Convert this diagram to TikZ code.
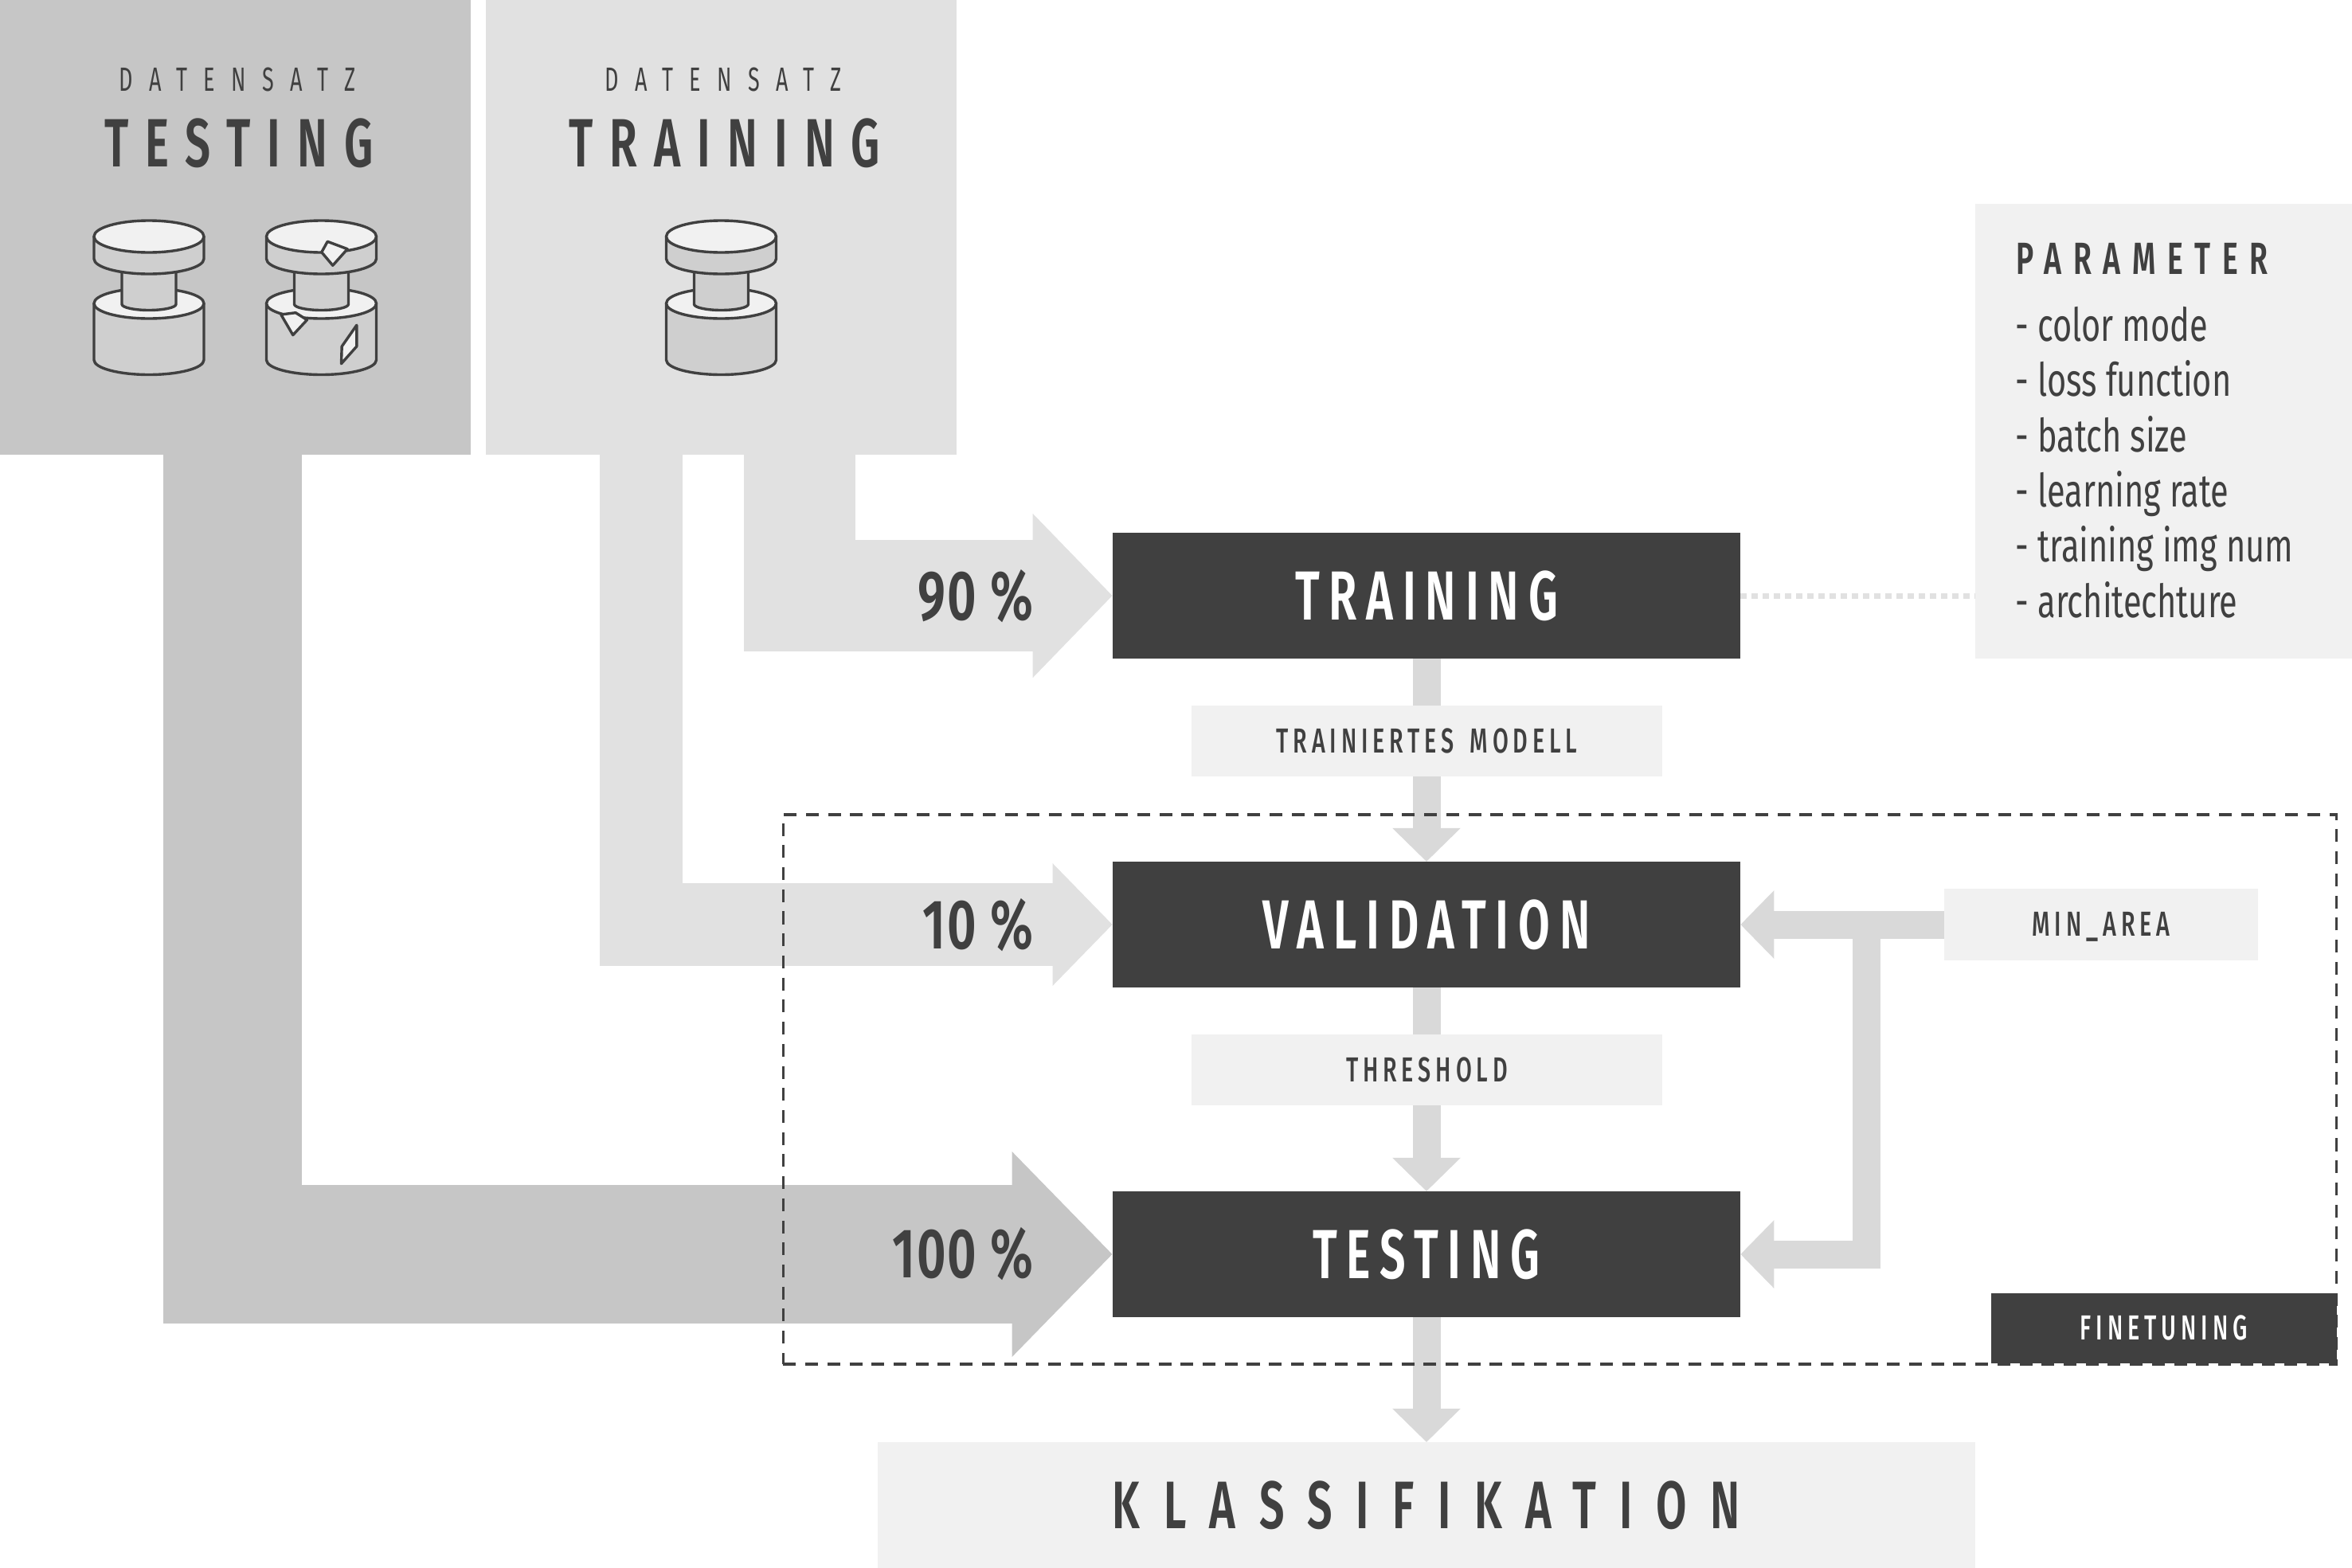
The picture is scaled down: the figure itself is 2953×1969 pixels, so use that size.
\documentclass[tikz,border=0pt]{standalone}
\usepackage{fontspec}
\usepackage{tikz}
\usetikzlibrary{arrows.meta}

\setmainfont{Fira Sans}
\newfontfamily\boxfont[FakeStretch=0.66,LetterSpace=13.5]{Fira Sans SemiBold}
\newfontfamily\panelfont[FakeStretch=0.66,LetterSpace=24.5]{Fira Sans SemiBold}
\newfontfamily\widefont[FakeStretch=0.66,LetterSpace=35]{Fira Sans SemiBold}
\newfontfamily\setfont[FakeStretch=0.64,LetterSpace=48]{Fira Sans}
\newfontfamily\smallfont[FakeStretch=0.66,LetterSpace=13.5]{Fira Sans Medium}
\newfontfamily\paramfont[FakeStretch=0.66,LetterSpace=26]{Fira Sans SemiBold}
\newfontfamily\listfont[FakeStretch=0.72]{Fira Sans}
\newfontfamily\percentfont[FakeStretch=0.72,LetterSpace=2]{Fira Sans SemiBold}

\definecolor{inkgray}{HTML}{404040}
\definecolor{testgray}{HTML}{C6C6C6}
\definecolor{traingray}{HTML}{E1E1E1}
\definecolor{flowgray}{HTML}{D9D9D9}
\definecolor{labelgray}{HTML}{F1F1F1}
\definecolor{sidegray}{HTML}{CFCFCF}

\pgfdeclarelayer{flowlayer}
\pgfsetlayers{flowlayer,main}

\tikzset{
	area/.style={inner sep=0pt, outer sep=0pt, minimum width=#1},
	panelbox/.style={area=5.91cm, minimum height=5.71cm},
	darkbox/.style={area=7.88cm, minimum height=1.58cm, fill=inkgray, text=white,
		font={\boxfont\fontsize{24.8}{30}\selectfont}, text height=17.1pt, text depth=0pt},
	labelbox/.style={area=5.91cm, minimum height=0.89cm, fill=labelgray, text=inkgray,
		font={\smallfont\fontsize{12.4}{15}\selectfont}, text height=8.5pt, text depth=0pt},
	settext/.style={anchor=base, inner sep=0pt, text=inkgray, font={\setfont\fontsize{12}{15}\selectfont}},
	paneltext/.style={anchor=base, inner sep=0pt, text=inkgray, font={\panelfont\fontsize{24.4}{30}\selectfont}},
	percenttext/.style={anchor=base east, inner sep=0pt, text=inkgray, font={\percentfont\fontsize{25}{30}\selectfont}},
	listtext/.style={anchor=base west, inner sep=0pt, text=inkgray, font={\listfont\fontsize{16.4}{20}\selectfont}},
	flowarrow/.style n args={4}{draw=#1, line width=#2, line join=miter,
		-{Triangle[length=#3, width=#4]}},
	thinflow/.style={flowarrow={flowgray}{0.35cm}{0.42cm}{0.83cm}},
	puckline/.style={draw=inkgray, line width=0.034cm, line join=round},
	puck/.pic={
		\draw[puckline, fill=sidegray] (-69,84) -- (-69,155) arc[start angle=180, end angle=0, x radius=69, y radius=18.5] -- (69,84) -- cycle;
		\draw[puckline, fill=labelgray] (0,84) ellipse[x radius=69, y radius=19];
		\draw[puckline, fill=sidegray] (-34,20) -- (-34,85) arc[start angle=180, end angle=0, x radius=34, y radius=7.5] -- (34,20) -- cycle;
		\draw[puckline, fill=sidegray] (-69,0) -- (-69,28) arc[start angle=180, end angle=0, x radius=69, y radius=19] -- (69,0) -- cycle;
		\draw[puckline, fill=labelgray] (0,0) ellipse[x radius=69, y radius=20];
	},
	cracks/.pic={
		\draw[puckline, fill=labelgray] (0.3,19.7) -- (7.7,6.3) -- (32.7,15.7) -- (14.3,36.3) -- cycle;
		\draw[puckline, fill=labelgray] (-50.7,98) -- (-32.3,95.7) -- (-18,104.7) -- (-35.7,123.7) -- cycle;
		\draw[puckline, fill=labelgray] (44.3,111.3) -- (44.3,138) -- (25,159.7) -- (25.7,138) -- cycle;
	}
}

\begin{document}
\begin{tikzpicture}[x=0.01cm, y=-0.01cm]
	\useasboundingbox (0,0) rectangle (2953,1969);

	% data sets
	\node[panelbox, fill=testgray] (testset) at (295.5,285.5) {};
	\node[panelbox, fill=traingray] (trainset) at (905.5,285.5) {};
	\node[settext] (testsetname) at (298,114.5) {DATENSATZ};
	\node[settext] (trainsetname) at (908,114.5) {DATENSATZ};
	\node[paneltext] (testtitle) at (300,209) {TESTING};
	\node[paneltext] (traintitle) at (910,209) {TRAINING};

	\pic at (187,297) {puck};
	\pic at (403.5,297) {puck};
	\pic at (403.5,297) {cracks};
	\pic at (905.5,297) {puck};

	% pipeline
	\node[darkbox] (trainingbox) at (1791,748) {TRAINING};
	\node[darkbox] (validationbox) at (1791,1161) {VALIDATION};
	\node[darkbox] (testingbox) at (1791,1575) {TESTING};
	\node[labelbox] (modellabel) at (1791.5,930.5) {TRAINIERTES\hspace{2pt} MODELL};
	\node[labelbox] (thresholdlabel) at (1791.5,1343.5) {THRESHOLD};
	\node[labelbox, area=3.94cm] (minarea) at (2638,1161) {MIN\_AREA};
	\node[area=13.77cm, minimum height=1.58cm, fill=labelgray, text=inkgray,
		font={\widefont\fontsize{24}{30}\selectfont}, text height=16.5pt, text depth=0pt] (klassifikation) at (1791,1890) {KLASSIFIKATION};

	% percentages
	\node[percenttext] (ninety) at (1298,778) {90 \%};
	\node[percenttext] (ten) at (1298,1191) {10 \%};
	\node[percenttext] (hundred) at (1298,1604) {100 \%};

	% parameter list
	\node[area=4.73cm, minimum height=5.71cm, fill=labelgray] (parameterbox) at (2716.5,541.5) {};
	\node[anchor=base west, inner sep=0pt, text=inkgray, font={\paramfont\fontsize{16.1}{20}\selectfont}] (parametertitle) at (2531,344) {PARAMETER};
	\foreach \listy/\listitem in {428.5/color mode, 497.5/loss function, 567/batch size, 636/learning rate, 705.5/training img num, 775.5/architechture}
		\node[listtext] (item\listy) at (2530,\listy) {- \listitem};

	% finetuning frame
	\node[area=4.335cm, minimum height=0.885cm, fill=inkgray, text=white,
		font={\smallfont\fontsize{12.4}{15}\selectfont}, text height=8.5pt, text depth=0pt] (finetuning) at (2716.75,1668) {FINETUNING};
	\node[area=19.49cm, minimum height=6.895cm, draw=inkgray, line width=0.036cm, dash pattern=on 0.16cm off 0.117cm] (finelayer) at (1958.5,1367.75) {};

	% flows
	\begin{pgfonlayer}{flowlayer}
		\coordinate (teststem) at (292,570);
		\coordinate (ninetystem) at (1004,570);
		\coordinate (tenstem) at (805,570);
		\coordinate (minbranch) at (2343,1161);
		\draw[flowarrow={testgray}{1.73cm}{1.26cm}{2.50cm}] (teststem) |- (testingbox.west);
		\draw[flowarrow={traingray}{1.39cm}{1.00cm}{2.00cm}] (ninetystem) |- (trainingbox.west);
		\draw[flowarrow={traingray}{1.04cm}{0.75cm}{1.49cm}] (tenstem) |- (validationbox.west);
		\draw[thinflow] (trainingbox) -- (validationbox);
		\draw[thinflow] (validationbox) -- (testingbox);
		\draw[thinflow] (testingbox) -- (klassifikation);
		\draw[thinflow] (minarea) -- (validationbox);
		\draw[thinflow] (minbranch) |- (testingbox.east);
	\end{pgfonlayer}
	\draw[draw=traingray, line width=0.07cm, dash pattern=on 0.08cm off 0.06cm] (trainingbox.east) -- (parameterbox.west |- trainingbox.east);
\end{tikzpicture}
\end{document}
